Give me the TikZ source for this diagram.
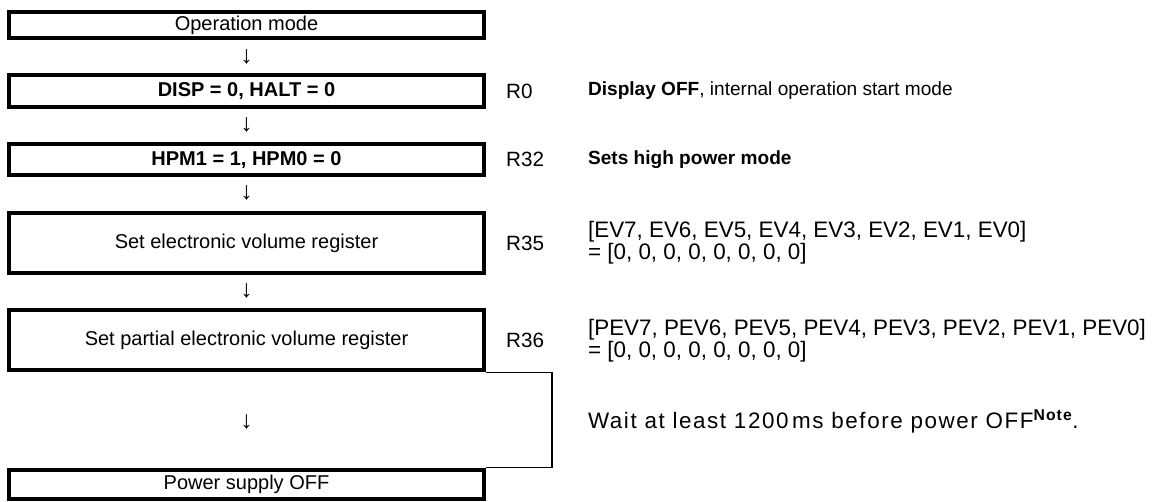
\documentclass[tikz,border=0pt]{standalone}
\usepackage{fontspec}
\setmainfont{Liberation Sans}
\usepackage{tikz}
\usetikzlibrary{positioning}
\tikzstyle{block} = [rectangle, draw=black, line width=3pt, minimum width=356pt, inner sep=0pt, text centered, font=\fontsize{15}{18}\selectfont]
\tikzstyle{arrowsym} = [inner sep=0pt, font=\fontsize{18.5}{20}\selectfont]
\tikzstyle{reg} = [anchor=west, inner sep=0pt, font=\fontsize{15.5}{18}\selectfont]
\tikzstyle{remark} = [anchor=west, align=left, inner sep=0pt, font=\fontsize{14.3}{16.5}\selectfont]
\tikzstyle{list} = [remark, font=\fontsize{16.8}{16.5}\selectfont]
\tikzstyle{line} = [draw, line width=1pt]

\begin{document}
\begin{tikzpicture}[x=0.75pt, y=-0.75pt]
    \useasboundingbox (0,0) rectangle (1159,502);
    % Flow
    \node [block, minimum height=20pt] (opmode) at (246.5,25) {Operation mode};
    \node [arrowsym, below of=opmode, node distance=24pt] (a1) {↓};
    \node [block, minimum height=24pt, below of=a1, node distance=25.5pt] (disp) {\bfseries DISP = 0, HALT = 0};
    \node [arrowsym, below of=disp, node distance=25.5pt] (a2) {↓};
    \node [block, minimum height=23pt, below of=a2, node distance=26pt] (hpm) {\bfseries HPM1 = 1, HPM0 = 0};
    \node [arrowsym, below of=hpm, node distance=25pt] (a3) {↓};
    \node [block, minimum height=45pt, below of=a3, node distance=37.5pt] (evol) {Set electronic volume register};
    \node [arrowsym, below of=evol, node distance=36pt] (a4) {↓};
    \node [block, minimum height=45pt, below of=a4, node distance=37pt] (pevol) {Set partial electronic volume register};
    \node [arrowsym, below of=pevol, node distance=61pt] (a5) {↓};
    \node [block, minimum height=22pt, below of=a5, node distance=47pt] (off) {Power supply OFF};

    % Registers
    \node [reg, right=15pt of disp] (r0) {R0};
    \node [reg, right=15pt of hpm] (r32) {R32};
    \node [reg, right=15pt of evol] (r35) {R35};
    \node [reg, right=15pt of pevol] (r36) {R36};

    % Remarks
    \node [remark, right=76.5pt of disp] (rm0) {\textbf{Display OFF}, internal operation start mode};
    \node [remark, right=76.5pt of hpm] (rm32) {\textbf{Sets high power mode}};
    \node [list, right=76.5pt of evol] (rm35) {[EV7, EV6, EV5, EV4, EV3, EV2, EV1, EV0]\\= [0, 0, 0, 0, 0, 0, 0, 0]};
    \node [list, right=76.5pt of pevol] (rm36) {[PEV7, PEV6, PEV5, PEV4, PEV3, PEV2, PEV1, PEV0]\\= [0, 0, 0, 0, 0, 0, 0, 0]};
    \node [list, right=76.5pt of a5 -| pevol.east] (wait) {\addfontfeatures{LetterSpace=7}Wait at least 1200\,ms before power OFF\textsuperscript{\bfseries Note}.};

    % Wait span
    \path [line] (pevol.south east) -- ++(49.5pt,0) |- (off.north east);
\end{tikzpicture}
\end{document}
